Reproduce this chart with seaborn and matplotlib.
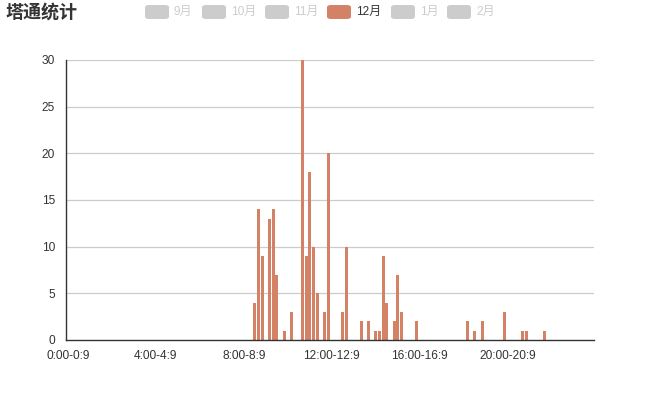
import matplotlib
matplotlib.use("Agg")
import matplotlib.pyplot as plt
from matplotlib.patches import FancyBboxPatch
import seaborn as sns
import pandas as pd

# ---- data ----
title = "塔通统计"
legend_months = ["9月", "10月", "11月", "12月", "1月", "2月"]
active_month = "12月"

# 10-minute slots, 0:00-0:9 ... 23:50-23:59
slots = [f"{h}:{m:02d}-{h}:{m + 9}" for h in range(24) for m in range(0, 60, 10)]

counts_0_4 = [0] * 24
counts_4_8 = [0] * 24
counts_8_12 = [0, 0, 0, 4, 14, 9, 0, 13, 14, 7, 0, 1, 0, 3, 0, 0, 30, 9, 18, 10, 5, 0, 3, 20]
counts_12_16 = [0, 0, 0, 3, 10, 0, 0, 0, 2, 0, 2, 0, 1, 1, 9, 4, 0, 2, 7, 3, 0, 0, 0, 2]
counts_16_20 = [0] * 13 + [2, 0, 1, 0, 2, 0, 0, 0, 0, 0, 3]
counts_20_24 = [0, 0, 0, 0, 1, 1, 0, 0, 0, 0, 1] + [0] * 13
counts = counts_0_4 + counts_4_8 + counts_8_12 + counts_12_16 + counts_16_20 + counts_20_24

y_ticks = [0, 5, 10, 15, 20, 25, 30]

# ---- style ----
bar_color = "#d48265"
inactive = "#cccccc"
text_color = "#333333"

sns.set_theme(style="white")
plt.rcParams["font.family"] = ["Liberation Sans", "Noto Sans CJK SC", "DejaVu Sans"]

df = pd.DataFrame({"slot": slots, "count": counts})

fig = plt.figure(figsize=(6.6, 4.0), dpi=100)
ax = fig.add_axes([0.1, 0.15, 0.8, 0.70])

sns.barplot(data=df, x="slot", y="count", order=slots, color=bar_color,
            width=0.74, saturation=1, ax=ax, linewidth=0)

n = len(slots)
ax.set_xlim(-0.5, n - 0.5)
ax.set_ylim(0, 30)
ax.set_yticks(y_ticks)
ax.set_yticklabels([str(v) for v in y_ticks])
for v in y_ticks[1:]:
    ax.axhline(v, color=inactive, linewidth=0.9, zorder=0)

label_pos = list(range(0, n, 24))
ax.set_xticks(label_pos)
ax.set_xticklabels([slots[i] for i in label_pos])
ax.set_xticks([i - 0.5 for i in range(0, n + 1, 24)], minor=True)
ax.tick_params(axis="x", which="major", length=0, pad=7, labelsize=8.6, colors=text_color)
ax.tick_params(axis="x", which="minor", length=5, width=1, color=text_color, direction="out")
ax.tick_params(axis="y", which="major", length=5, width=1, color=text_color, direction="out",
               labelsize=8.6, labelcolor=text_color, pad=3)
ax.set_xlabel("")
ax.set_ylabel("")
for s in ["top", "right"]:
    ax.spines[s].set_visible(False)
for s in ["left", "bottom"]:
    ax.spines[s].set_color(text_color)
    ax.spines[s].set_linewidth(1)

# ---- title ----
fig.text(5 / 660, 1 - 12 / 400, title, fontsize=13, fontweight="bold",
         color=text_color, va="center", ha="left", family=["Noto Sans CJK SC"])

# ---- legend ----
box_x = [145, 202, 265, 327, 391, 447]
W, H = 660.0, 400.0
for x0, lab in zip(box_x, legend_months):
    col = bar_color if lab == active_month else inactive
    tcol = text_color if lab == active_month else inactive
    p = FancyBboxPatch((x0 / W, 1 - 19 / H), 24 / W, 14 / H,
                       boxstyle="round,pad=0,rounding_size=0.006",
                       transform=fig.transFigure, facecolor=col, edgecolor="none")
    fig.patches.append(p)
    fig.text((x0 + 29) / W, 1 - 12 / H, lab, fontsize=8.6, color=tcol,
             va="center", ha="left")

fig.savefig("out.png", dpi=100)
